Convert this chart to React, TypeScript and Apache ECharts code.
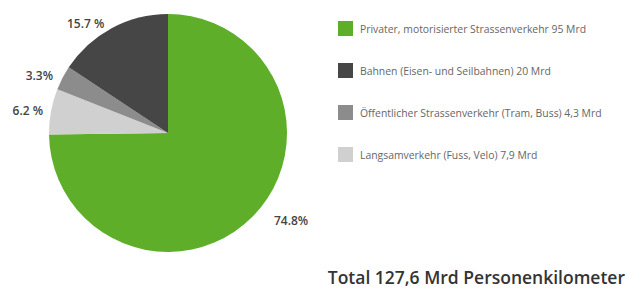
import React, { useEffect, useRef } from "react";
import * as echarts from "echarts";

// Pie slices in clockwise order from 12 o'clock
const sliceNames = [
  "Privater, motorisierter Strassenverkehr 95 Mrd",
  "Langsamverkehr (Fuss, Velo) 7,9 Mrd",
  "Öffentlicher Strassenverkehr (Tram, Buss) 4,3 Mrd",
  "Bahnen (Eisen- und Seilbahnen) 20 Mrd",
];
const sliceValues = [74.8, 6.2, 3.3, 15.7];
const sliceLabels = ["74.8%", "6.2 %", "3.3%", "15.7 %"];
const sliceColors = ["#5eae2a", "#d0d0d0", "#8c8c8c", "#464646"];
const labelGaps = [6, 3, 5, 5];
const labelPads = [
  [0, 0, 14, 12],
  [14, 0, 0, 0],
  [0, 0, 0, 0],
  [0, 0, 0, 0],
];

// Legend order as in the reference
const legendOrder = [
  "Privater, motorisierter Strassenverkehr 95 Mrd",
  "Bahnen (Eisen- und Seilbahnen) 20 Mrd",
  "Öffentlicher Strassenverkehr (Tram, Buss) 4,3 Mrd",
  "Langsamverkehr (Fuss, Velo) 7,9 Mrd",
];

const totalText = "Total 127,6 Mrd Personenkilometer";

export default function App() {
  const ref = useRef<HTMLDivElement>(null);

  useEffect(() => {
    if (!ref.current) return;
    const chart = echarts.init(ref.current, null, { renderer: "svg" });
    chart.setOption({
      animation: false,
      backgroundColor: "#ffffff",
      title: {
        text: totalText,
        right: -3,
        bottom: -2,
        textStyle: {
          fontFamily: "Open Sans",
          fontSize: 17.5,
          fontWeight: 600,
          color: "#333333",
        },
      },
      legend: {
        data: legendOrder,
        orient: "vertical",
        left: 333,
        top: 16,
        icon: "rect",
        itemWidth: 15,
        itemHeight: 15,
        itemGap: 27,
        selectedMode: false,
        textStyle: {
          fontFamily: "Open Sans",
          fontSize: 10.4,
          color: "#666666",
          padding: [0, 0, 0, 2],
        },
      },
      series: [
        {
          type: "pie",
          center: [168, 133],
          radius: 119,
          startAngle: 90,
          clockwise: true,
          avoidLabelOverlap: false,
          label: {
            show: true,
            position: "outside",
            fontFamily: "Open Sans",
            fontSize: 12,
            fontWeight: 600,
            color: "#444444",
            formatter: (p: any) => sliceLabels[p.dataIndex],
          },
          labelLine: { show: false, length: 6, length2: 0 },
          emphasis: { disabled: true },
          data: sliceNames.map((n, i) => ({
            name: n,
            value: sliceValues[i],
            itemStyle: { color: sliceColors[i] },
            label: { padding: labelPads[i] },
            labelLine: { show: false, length: labelGaps[i], length2: 0 },
          })),
        },
      ],
    });
    return () => chart.dispose();
  }, []);

  return (
    <div
      ref={ref}
      style={{ position: "fixed", left: 0, top: 0, width: 627, height: 289 }}
    />
  );
}
